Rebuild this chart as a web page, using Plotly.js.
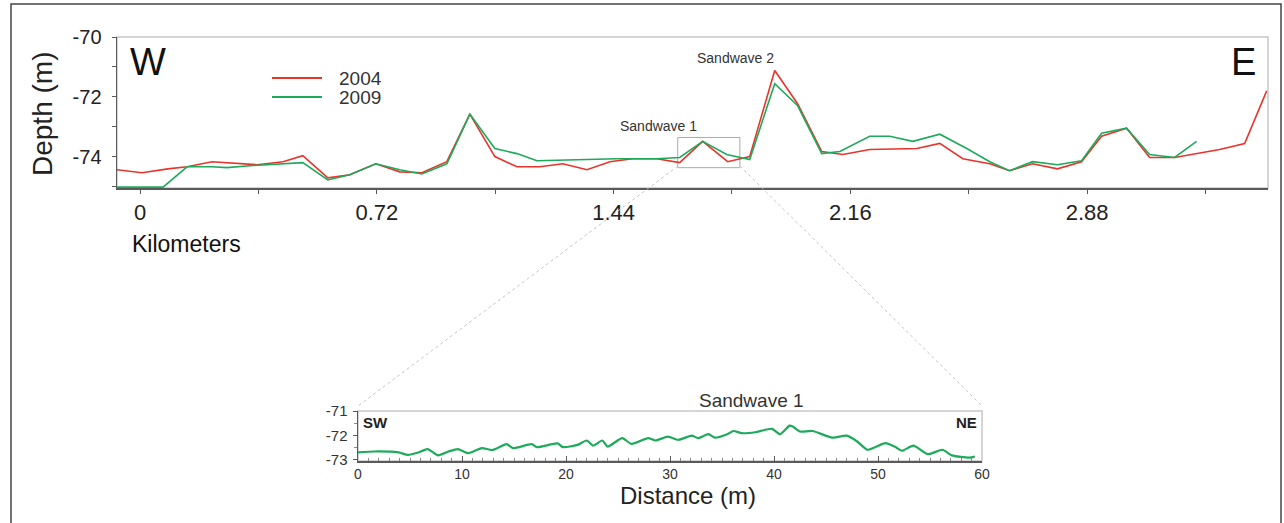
<!DOCTYPE html>
<html>
<head>
<meta charset="utf-8">
<script src="https://cdn.plot.ly/plotly-3.0.1.min.js"></script>
<style>
  html, body { margin: 0; padding: 0; background: #fff; }
  #chart { width: 1284px; height: 523px; }
</style>
</head>
<body>
<div id="chart"></div>
<script>
// ---- Profile W-E (kilometers, depth in m) ----
const km2004 = [-0.07, 0.006, 0.085, 0.143, 0.219, 0.356, 0.435, 0.495, 0.571, 0.638, 0.717, 0.790, 0.857, 0.933, 1.003, 1.079, 1.146, 1.216, 1.286, 1.359, 1.429, 1.498, 1.571, 1.641, 1.711, 1.787, 1.854, 1.930, 2.000, 2.073, 2.137, 2.219, 2.362, 2.432, 2.502, 2.584, 2.644, 2.714, 2.790, 2.863, 2.924, 3.000, 3.070, 3.146, 3.283, 3.359, 3.426];
const depth2004 = [-74.44, -74.54, -74.41, -74.34, -74.17, -74.27, -74.17, -73.97, -74.71, -74.61, -74.24, -74.51, -74.54, -74.17, -72.58, -74.00, -74.34, -74.34, -74.24, -74.44, -74.17, -74.07, -74.07, -74.20, -73.49, -74.17, -74.00, -71.12, -72.24, -73.83, -73.93, -73.76, -73.73, -73.56, -74.07, -74.24, -74.47, -74.24, -74.41, -74.17, -73.32, -73.05, -74.03, -74.03, -73.76, -73.56, -71.80];

const km2009 = [-0.07, 0.070, 0.143, 0.219, 0.264, 0.343, 0.495, 0.571, 0.638, 0.717, 0.790, 0.857, 0.933, 1.003, 1.079, 1.146, 1.207, 1.328, 1.450, 1.571, 1.641, 1.711, 1.784, 1.854, 1.930, 2.000, 2.073, 2.128, 2.219, 2.280, 2.350, 2.432, 2.514, 2.584, 2.644, 2.714, 2.790, 2.863, 2.924, 3.000, 3.070, 3.146, 3.213];
const depth2009 = [-75.02, -75.02, -74.34, -74.34, -74.37, -74.30, -74.20, -74.78, -74.61, -74.24, -74.44, -74.58, -74.24, -72.58, -73.73, -73.90, -74.14, -74.10, -74.07, -74.07, -74.03, -73.49, -73.93, -74.10, -71.56, -72.30, -73.90, -73.83, -73.32, -73.32, -73.49, -73.25, -73.73, -74.17, -74.47, -74.17, -74.27, -74.14, -73.22, -73.05, -73.93, -74.03, -73.49];

// ---- Sandwave 1 detail (distance in m, depth in m) ----
const distSW1 = [0, 1.6, 3.9, 4.8, 5.8, 6.7, 7.7, 8.7, 9.6, 10.6, 11.9, 12.9, 14.3, 14.9, 16.7, 17.2, 19.2, 19.7, 21.1, 22.0, 22.6, 23.5, 24.0, 25.4, 26.3, 27.9, 28.6, 29.8, 30.8, 32.1, 32.7, 33.7, 34.3, 35.5, 36.1, 36.9, 38.2, 39.8, 40.6, 41.5, 41.8, 42.5, 43.7, 45.6, 47.0, 48.0, 49.0, 50.7, 51.6, 52.3, 53.4, 54.8, 56.2, 57.1, 58.8, 59.3];
const depthSW1 = [-72.70, -72.66, -72.70, -72.80, -72.70, -72.56, -72.82, -72.66, -72.56, -72.73, -72.52, -72.60, -72.36, -72.52, -72.36, -72.48, -72.33, -72.48, -72.39, -72.21, -72.42, -72.21, -72.46, -72.11, -72.35, -72.11, -72.21, -72.05, -72.18, -72.01, -72.11, -71.95, -72.09, -71.95, -71.82, -71.91, -71.87, -71.73, -71.95, -71.60, -71.64, -71.84, -71.82, -72.09, -72.01, -72.25, -72.59, -72.32, -72.46, -72.63, -72.42, -72.77, -72.59, -72.82, -72.91, -72.87];

const seriesNames = ['2004', '2009'];
const kmTicks = [0, 0.72, 1.44, 2.16, 2.88];
const depthTicks = [-70, -72, -74];
const distTicks = [0, 10, 20, 30, 40, 50, 60];
const depthTicksSW1 = [-71, -72, -73];

const W = 1284, H = 523;
const px = v => v / W;
const py = v => 1 - v / H;

const FONT = 'Liberation Sans, Arial, Helvetica, sans-serif';
const RED = '#e8342b';
const GREEN = '#1daa5a';
const colors = [RED, GREEN];

const traces = [
  { x: km2004, y: depth2004, name: seriesNames[0], type: 'scatter', mode: 'lines',
    line: { color: RED, width: 1.6 }, xaxis: 'x', yaxis: 'y' },
  { x: km2009, y: depth2009, name: seriesNames[1], type: 'scatter', mode: 'lines',
    line: { color: GREEN, width: 1.6 }, xaxis: 'x', yaxis: 'y' },
  { x: distSW1, y: depthSW1, name: 'Sandwave 1', type: 'scatter', mode: 'lines',
    line: { color: GREEN, width: 2.2, shape: 'spline', smoothing: 0.6 },
    xaxis: 'x2', yaxis: 'y2' }
];

const axisLine = '#5a5a5a';
const hy = arr => arr.map(v => String(v).replace('\u2212', '-'));

// manual legend (line + label), placed as in the reference
const legendShapes = seriesNames.map((n, i) => ({
  type: 'line', xref: 'paper', yref: 'paper',
  x0: px(272), x1: px(322), y0: py(78 + i * 19), y1: py(78 + i * 19),
  line: { color: colors[i], width: 2 }
}));
const legendLabels = seriesNames.map((n, i) => ({
  text: n, xref: 'paper', yref: 'paper', x: px(337), y: py(78 + i * 19),
  showarrow: false, xanchor: 'left', yanchor: 'middle', font: { size: 19, color: '#333' }
}));

const layout = {
  width: W, height: H,
  margin: { l: 0, r: 0, t: 0, b: 0, autoexpand: false },
  paper_bgcolor: '#fff', plot_bgcolor: '#fff',
  font: { family: FONT, color: '#222' },
  showlegend: false,
  xaxis: {
    domain: [px(117), px(1268)], range: [-0.07, 3.43], anchor: 'y',
    showgrid: false, zeroline: false, showline: true, linecolor: axisLine, linewidth: 1.5,
    tickvals: kmTicks, ticktext: kmTicks.map(String),
    ticks: 'outside', ticklen: 4, tickcolor: axisLine, ticklabelstandoff: 0,
    minor: { dtick: 0.36, tick0: 0, ticks: 'outside', ticklen: 4, tickcolor: axisLine },
    tickfont: { size: 22, color: '#222' }
  },
  yaxis: {
    domain: [py(188), py(37)], range: [-75.05, -70], anchor: 'x',
    showgrid: false, zeroline: false, showline: true, linecolor: axisLine, linewidth: 1.5,
    tickvals: depthTicks, ticktext: hy(depthTicks),
    ticks: 'outside', ticklen: 4, tickcolor: axisLine, ticklabelstandoff: 6,
    minor: { dtick: 1, ticks: 'outside', ticklen: 4, tickcolor: axisLine },
    tickfont: { size: 20, color: '#222' }
  },
  xaxis2: {
    domain: [px(358), px(982)], range: [0, 60], anchor: 'y2',
    showgrid: false, zeroline: false, showline: true, linecolor: axisLine, linewidth: 1.5,
    tickvals: distTicks, ticks: 'inside', ticklen: 5, tickcolor: axisLine, ticklabelstandoff: 0,
    minor: { dtick: 1, ticks: 'inside', ticklen: 3, tickcolor: '#888' },
    tickfont: { size: 14, color: '#333' }
  },
  yaxis2: {
    domain: [py(461), py(411)], range: [-73.05, -71], anchor: 'x2',
    showgrid: false, zeroline: false, showline: true, linecolor: axisLine, linewidth: 1.5,
    tickvals: depthTicksSW1, ticktext: hy(depthTicksSW1),
    ticks: 'outside', ticklen: 4, tickcolor: axisLine, ticklabelstandoff: 2,
    minor: { dtick: 0.5, ticks: 'outside', ticklen: 3, tickcolor: '#888' },
    tickfont: { size: 15, color: '#333' }
  },
  shapes: [
    // outer figure border
    { type: 'rect', xref: 'paper', yref: 'paper', x0: px(11), x1: px(1281), y0: -0.05, y1: py(4),
      line: { color: '#444', width: 1.5 }, fillcolor: 'rgba(0,0,0,0)' },
    // light frame of top profile
    { type: 'rect', xref: 'x domain', yref: 'y domain', x0: 0, x1: 1, y0: 0, y1: 1,
      line: { color: '#c8c8c8', width: 1.5 }, layer: 'below' },
    // light frame of inset
    { type: 'rect', xref: 'x2 domain', yref: 'y2 domain', x0: 0, x1: 1, y0: 0, y1: 1,
      line: { color: '#c8c8c8', width: 1.5 }, layer: 'below' },
    // Sandwave 1 box on the profile
    { type: 'rect', xref: 'x', yref: 'y', x0: 1.635, x1: 1.824, y0: -74.37, y1: -73.36,
      line: { color: '#aaa', width: 1 }, layer: 'below' },
    // connector lines to the inset
    { type: 'line', xref: 'paper', yref: 'paper', x0: px(678), y0: py(166), x1: px(358), y1: py(406),
      line: { color: '#c4c4c4', width: 1, dash: 'dot' } },
    { type: 'line', xref: 'paper', yref: 'paper', x0: px(740), y0: py(166), x1: px(982), y1: py(406),
      line: { color: '#c4c4c4', width: 1, dash: 'dot' } }
  ].concat(legendShapes),
  annotations: [
    { text: 'Depth (m)', xref: 'paper', yref: 'paper', x: px(42), y: py(114), textangle: -90,
      showarrow: false, xanchor: 'center', yanchor: 'middle', font: { size: 28, color: '#222' } },
    { text: 'Kilometers', xref: 'paper', yref: 'paper', x: px(130), y: py(244),
      showarrow: false, xanchor: 'left', yanchor: 'middle', font: { size: 23, color: '#111' } },
    { text: 'W', xref: 'paper', yref: 'paper', x: px(148), y: py(62),
      showarrow: false, xanchor: 'center', yanchor: 'middle', font: { size: 38, color: '#111' } },
    { text: 'E', xref: 'paper', yref: 'paper', x: px(1243), y: py(62),
      showarrow: false, xanchor: 'center', yanchor: 'middle', font: { size: 38, color: '#111' } },
    { text: 'Sandwave 2', xref: 'paper', yref: 'paper', x: px(736), y: py(58),
      showarrow: false, xanchor: 'center', yanchor: 'middle', font: { size: 14, color: '#333' } },
    { text: 'Sandwave 1', xref: 'paper', yref: 'paper', x: px(658), y: py(126),
      showarrow: false, xanchor: 'center', yanchor: 'middle', font: { size: 14, color: '#333' } },
    { text: 'Sandwave 1', xref: 'paper', yref: 'paper', x: px(752), y: py(400),
      showarrow: false, xanchor: 'center', yanchor: 'middle', font: { size: 19, color: '#333' } },
    { text: '<b>SW</b>', xref: 'paper', yref: 'paper', x: px(375), y: py(422),
      showarrow: false, xanchor: 'center', yanchor: 'middle', font: { size: 15, color: '#222' } },
    { text: '<b>NE</b>', xref: 'paper', yref: 'paper', x: px(966), y: py(422),
      showarrow: false, xanchor: 'center', yanchor: 'middle', font: { size: 15, color: '#222' } },
    { text: 'Distance (m)', xref: 'paper', yref: 'paper', x: px(688), y: py(495),
      showarrow: false, xanchor: 'center', yanchor: 'middle', font: { size: 24, color: '#222' } }
  ].concat(legendLabels)
};

Plotly.newPlot('chart', traces, layout, { displayModeBar: false, staticPlot: true });
</script>
</body>
</html>
